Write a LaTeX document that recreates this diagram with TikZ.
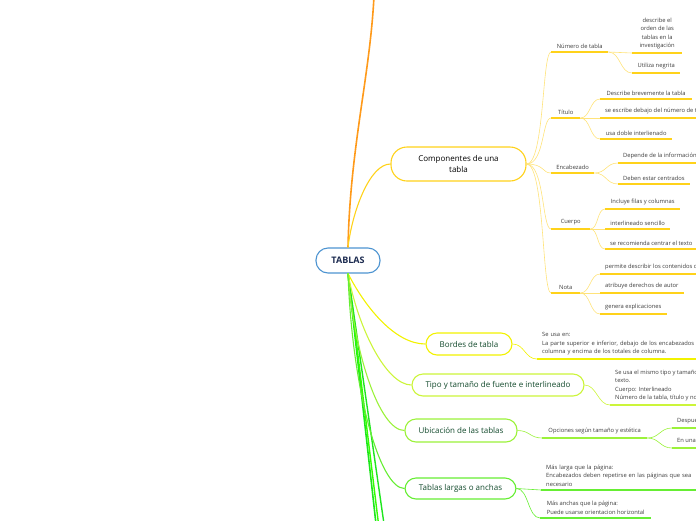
\documentclass[tikz,border=0pt]{standalone}
\usepackage{fontspec}
\setmainfont{Open Sans}
\definecolor{rootblue}{HTML}{4D94D1}
\definecolor{rootink}{HTML}{1C2B50}
\definecolor{topicink}{HTML}{124A2C}
\definecolor{leafink}{HTML}{3C3C3C}
\definecolor{orangeln}{HTML}{FF9A1A}
\definecolor{compgold}{HTML}{FFD21A}
\definecolor{complight}{HTML}{FFE37A}
\definecolor{bordyel}{HTML}{F2F200}
\definecolor{tipolime}{HTML}{CCF53A}
\definecolor{ubicgreen}{HTML}{9BF23A}
\definecolor{largreen}{HTML}{66EE33}
\definecolor{deepgreen}{HTML}{1EE61E}
\definecolor{brightgreen}{HTML}{33FF00}

\begin{document}
\begin{tikzpicture}[
    x=1pt, y=-1pt,
    topic/.style={draw=#1, line width=1.1pt, rounded corners=11pt, fill=white, align=center,
        inner sep=0pt, font=\fontsize{8}{11}\selectfont, text=topicink},
    leaf/.style={anchor=south west, align=left, inner xsep=5pt, inner ysep=3.5pt,
        font=\fontsize{5.8}{8.6}\selectfont, text=leafink},
    link/.style={draw=#1, line width=0.6pt},
    trunk/.style={draw=#1, line width=1.1pt},
    uline/.style={draw=#1, line width=1.6pt}
]
\clip (0,0) rectangle (696,520);

\node[topic=rootblue, minimum width=64pt, minimum height=25pt, rounded corners=12pt,
    text=rootink, font=\fontsize{9}{11}\selectfont\bfseries] (root) at (348,260.5) {TABLAS};
\node[topic=compgold, minimum width=135pt, minimum height=34pt, rounded corners=16pt, text=black]
    (comp) at (458.5,164) {Componentes de una\\tabla};
\node[topic=bordyel, minimum width=86pt, minimum height=22pt] (bord) at (469,344) {Bordes de tabla};
\node[topic=tipolime, minimum width=172pt, minimum height=22pt] (tipo) at (498,385)
    {Tipo y tamaño de fuente e interlineado};
\node[topic=ubicgreen, minimum width=112pt, minimum height=23pt] (ubic) at (461,430.5)
    {Ubicación de las tablas};
\node[topic=largreen, minimum width=111pt, minimum height=21pt] (larg) at (460.5,488.5)
    {Tablas largas o anchas};

\coordinate (upper) at (374,-4);
\coordinate (low1) at (376,524);
\coordinate (low2) at (378.5,524);
\coordinate (low3) at (384,524);

\node[leaf, minimum width=57pt] (num) at (551,52) {Número de tabla};
\node[leaf, minimum width=29pt] (tit) at (551,118) {Título};
\node[leaf, minimum width=43pt] (enc) at (551,173) {Encabezado};
\node[leaf, minimum width=39pt] (cue) at (551,229) {Cuerpo};
\node[leaf, minimum width=29pt] (nota) at (551,293) {Nota};

\node[leaf, minimum width=50pt, align=center] (n1) at (632,53) {describe el\\orden de las\\tablas en la\\investigación};
\node[leaf, minimum width=48pt] (n2) at (632,73) {Utiliza negrita};
\node[leaf, minimum width=92pt] (t1) at (600,99) {Describe brevemente la tabla};
\node[leaf] (t2) at (600,118) {se escribe debajo del número de tabla};
\node[leaf, minimum width=72pt] (t3) at (600,139) {usa doble interlienado};
\node[leaf] (e1) at (618,163) {Depende de la información};
\node[leaf, minimum width=69pt] (e2) at (618,184) {Deben estar centrados};
\node[leaf, minimum width=75pt] (c1) at (605,209) {Incluye filas y columnas};
\node[leaf, minimum width=65pt] (c2) at (605,229) {interlineado sencillo};
\node[leaf, minimum width=92pt] (c3) at (605,249) {se recomienda centrar el texto};
\node[leaf] (o1) at (600,274) {permite describir los contenidos de la tabla};
\node[leaf, minimum width=83pt] (o2) at (600,293) {atribuye derechos de autor};
\node[leaf, minimum width=66pt] (o3) at (600,314) {genera explicaciones};

\node[leaf, text width=200pt] (b1) at (537,359)
    {Se usa en:\\La parte superior e inferior, debajo de los encabezados de\\columna y encima de los totales de columna.};
\node[leaf] (p1) at (610,405)
    {Se usa el mismo tipo y tamaño de fuente del\\texto.\\Cuerpo: Interlineado\\Número de la tabla, título y notas};
\node[leaf, minimum width=105pt] (u1) at (542,438) {Opciones según tamaño y estética};
\node[leaf] (u2) at (672,428) {Después de ser mencionadas};
\node[leaf] (u3) at (672,448) {En una página aparte};
\node[leaf, text width=150pt] (l1) at (541,490)
    {Más larga que la página:\\Encabezados deben repetirse en las páginas que sea\\necesario};
\node[leaf, minimum width=111pt] (l2) at (540,518) {Más anchas que la página:\\Puede usarse orientacion horizontal};

\draw[trunk=orangeln, line width=1.6pt] (root.north) .. controls +(2,-100) and +(-4,80) .. (upper);
\draw[trunk=deepgreen, line width=1.6pt] (root.south) -- (low1);
\draw[trunk=brightgreen, line width=1.4pt] (root.south) -- (low2);
\draw[trunk=deepgreen, line width=1.4pt] (root.south) -- (low3);
\draw[trunk=compgold] (root.north) .. controls +(4,-35) and +(-21,0) .. (comp.west);
\draw[trunk=bordyel] (root.south) .. controls +(18,35) and +(-30,0) .. (bord.west);
\draw[trunk=tipolime] (root.south) .. controls +(10,55) and +(-25,0) .. (tipo.west);
\draw[trunk=ubicgreen] (root.south) .. controls +(6,80) and +(-25,0) .. (ubic.west);
\draw[trunk=largreen] (root.south) .. controls +(4,115) and +(-25,0) .. (larg.west);

\foreach \kid in {num,tit,enc,cue,nota}
    \draw[link=complight] (comp.east) .. controls +(18,0) and +(-9,0) .. (\kid.south west);
\foreach \kid in {n1,n2}
    \draw[link=complight] (num.south east) .. controls +(12,0) and +(-12,0) .. (\kid.south west);
\foreach \kid in {t1,t2,t3}
    \draw[link=complight] (tit.south east) .. controls +(10,0) and +(-10,0) .. (\kid.south west);
\foreach \kid in {e1,e2}
    \draw[link=complight] (enc.south east) .. controls +(12,0) and +(-12,0) .. (\kid.south west);
\foreach \kid in {c1,c2,c3}
    \draw[link=complight] (cue.south east) .. controls +(8,0) and +(-8,0) .. (\kid.south west);
\foreach \kid in {o1,o2,o3}
    \draw[link=complight] (nota.south east) .. controls +(10,0) and +(-10,0) .. (\kid.south west);
\draw[link=bordyel] (bord.east) .. controls +(12,0) and +(-12,0) .. (b1.south west);
\draw[link=tipolime] (tipo.east) .. controls +(12,0) and +(-12,0) .. (p1.south west);
\draw[link=ubicgreen] (ubic.east) .. controls +(12,0) and +(-12,0) .. (u1.south west);
\draw[link=ubicgreen] (u1.south east) .. controls +(12,0) and +(-12,0) .. (u2.south west);
\draw[link=ubicgreen] (u1.south east) .. controls +(12,0) and +(-12,0) .. (u3.south west);
\draw[link=largreen] (larg.east) .. controls +(12,0) and +(-12,0) .. (l1.south west);
\draw[link=largreen] (larg.east) .. controls +(12,0) and +(-12,0) .. (l2.south west);

\foreach \n in {num,tit,enc,cue,nota,n1,n2,t1,t2,t3,e1,e2,c1,c2,c3,o1,o2,o3}
    \draw[uline=compgold] (\n.south west) -- (\n.south east);
\draw[uline=bordyel] (b1.south west) -- (b1.south east);
\draw[uline=tipolime] (p1.south west) -- (p1.south east);
\foreach \n in {u1,u2,u3}
    \draw[uline=ubicgreen] (\n.south west) -- (\n.south east);
\foreach \n in {l1,l2}
    \draw[uline=largreen] (\n.south west) -- (\n.south east);
\end{tikzpicture}
\end{document}
